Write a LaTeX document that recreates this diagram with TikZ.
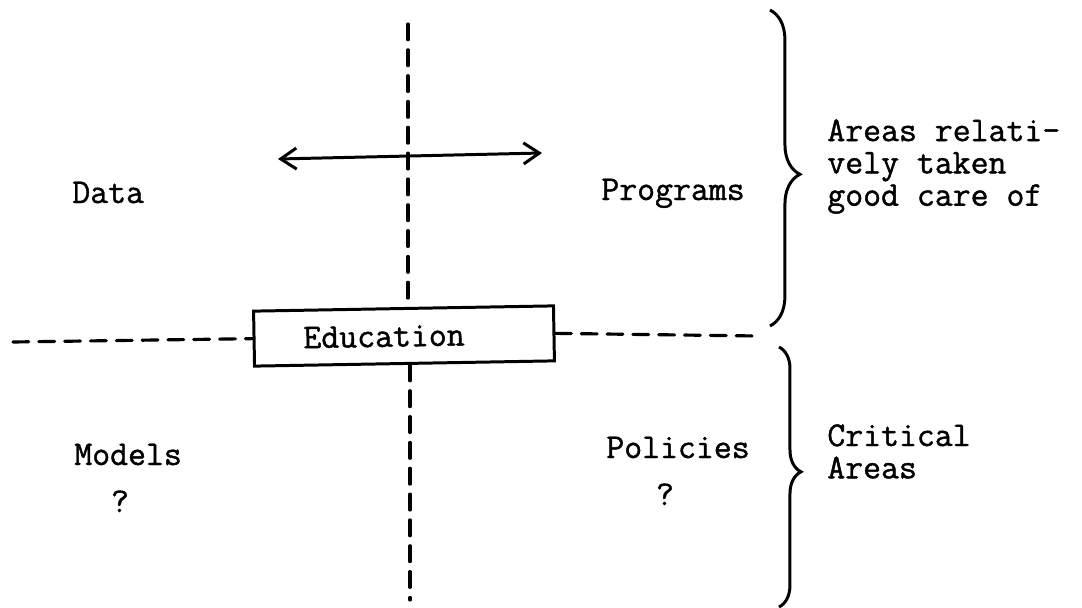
\documentclass[tikz,border=0pt]{standalone}
\usepackage{fontspec}
\newfontfamily\typew{Latin Modern Mono}[FakeBold=1.2]
\usetikzlibrary{arrows.meta,decorations.pathreplacing}
\begin{document}
\begin{tikzpicture}[x=0.02cm,y=-0.02cm,
  txt/.style={font=\typew\fontsize{19.8}{18.4}\selectfont, inner sep=0pt},
  dashline/.style={line width=1.8pt, dash pattern=on 9pt off 5.7pt, line cap=round},
  edubox/.style={draw, line width=1.7pt, minimum width=6cm, minimum height=1.1cm,
    font=\typew\fontsize{19.8}{18.4}\selectfont, inner sep=0pt},
  arr/.style={line width=1.7pt, {Straight Barb[length=9pt,width=12pt]}-{Straight Barb[length=9pt,width=12pt]}},
  bracestyle/.style={line width=1.7pt, decorate}
]
\useasboundingbox (0,0) rectangle (1082,608);
% free ends
\coordinate (vt) at (408,24);
\coordinate (vb) at (410,600);
\coordinate (hl) at (13,342);
\coordinate (hr) at (758,336);
\coordinate (al) at (278,159);
\coordinate (ar) at (542,153);
% box
\node[edubox, rotate=1] (edu) at (404,336) {Education\kern0.8cm\relax};
% dashed axes
\draw[dashline] (vt) -- (vt |- edu.north);
\draw[dashline] (vb |- edu.south) -- (vb);
\draw[dashline] (hl) -- (edu.west);
\draw[dashline] (edu.east) -- (hr);
% arrow
\draw[arr] (al) -- (ar);
% quadrant labels
\node[txt, anchor=base west] (data) at (72,203) {Data};
\node[txt, anchor=base west] (prog) at (601,200) {Programs};
\node[txt, anchor=base west] (models) at (74,465) {Models};
\node[txt, anchor=base] (q1) at (120,512) {?};
\node[txt, anchor=base west] (pol) at (606,458) {Policies};
\node[txt, anchor=base] (q2) at (665,505) {?};
% braces
\coordinate (b1t) at (770,10);
\coordinate (b1b) at (770,326);
\coordinate (b2t) at (779,347);
\coordinate (b2b) at (779,607);
\draw[bracestyle, decoration={brace, amplitude=17pt, aspect=0.52}] (b1t) -- (b1b);
\draw[bracestyle, decoration={brace, amplitude=12.5pt, aspect=0.48}] (b2t) -- (b2b);
\node[txt, anchor=north west, align=left] (good) at (827,119) {Areas relati-\\vely taken\\good care of};
\node[txt, anchor=north west, align=left] (crit) at (827,424) {Critical\\Areas};
\end{tikzpicture}
\end{document}
